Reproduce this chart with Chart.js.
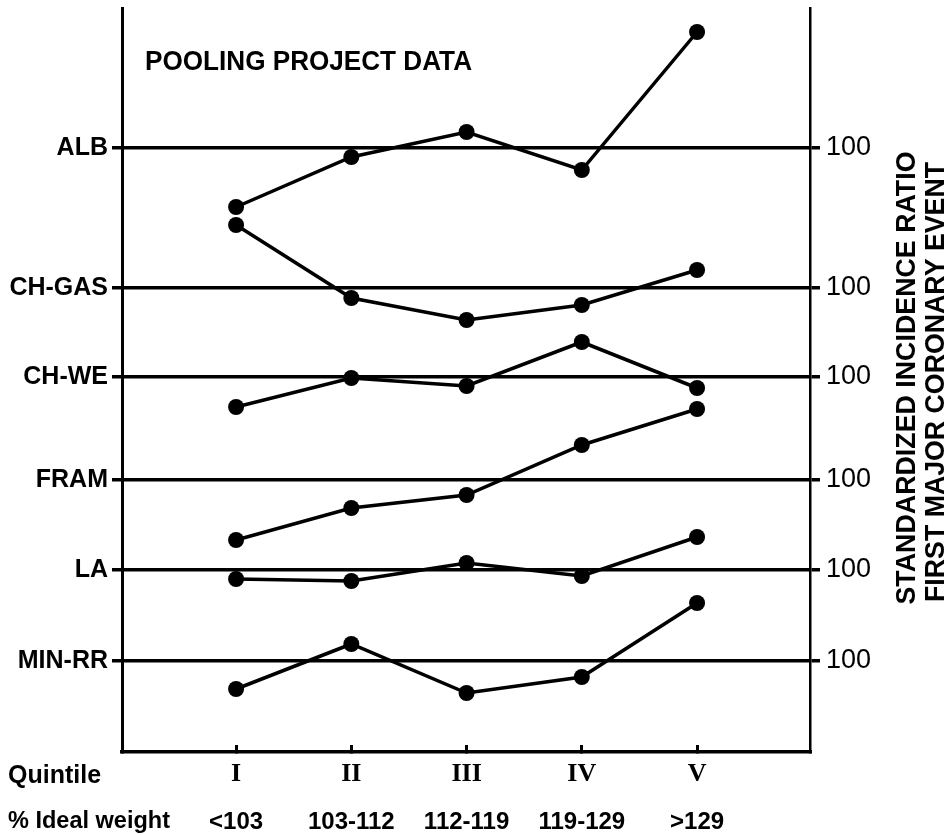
<!DOCTYPE html>
<html lang="en">
<head>
<meta charset="UTF-8">
<title>Pooling Project Data</title>
<script src="https://cdn.jsdelivr.net/npm/chart.js"></script>
<style>
    * { margin: 0; padding: 0; }
    body { background: #fff; }
</style>
</head>
<body>
<canvas id="myChart" width="949" height="835"></canvas>
<script>
    const studies = ['ALB', 'CH-GAS', 'CH-WE', 'FRAM', 'LA', 'MIN-RR'];
    // where each study's 100-line sits on the stacked axis
    const baselines = [302, 232, 187.5, 136, 91, 45.5];
    const quintiles = ['I', 'II', 'III', 'IV', 'V'];
    const idealWeight = ['<103', '103-112', '112-119', '119-129', '>129'];

    // standardized incidence ratio, quintile I..V
    const alb   = [70.5, 95.5, 108, 89, 158];
    const chGas = [131.5, 95, 84, 91.5, 109];
    const chWe  = [85, 99.5, 95.5, 117.5, 94.5];
    const fram  = [70, 86, 92.5, 117.5, 135.5];
    const la    = [95.5, 94.5, 103.5, 97, 116.5];
    const minRR = [86, 108.5, 84, 92, 129];
    const series = [alb, chGas, chWe, fram, la, minRR];

    const sans = '"Liberation Sans", Arial, sans-serif';

    const datasets = series.map((vals, k) => ({
        label: studies[k],
        data: vals.map((v, i) => ({ x: i + 1, y: baselines[k] + v - 100 })),
        borderColor: '#000',
        backgroundColor: '#000',
        borderWidth: 3.5,
        pointRadius: 8,
        pointBorderWidth: 0,
        tension: 0
    }));

    const quintileTicks = s => { s.ticks = quintiles.map((q, i) => ({ value: i + 1 })); };
    const baselineTicks = s => { s.ticks = baselines.map(v => ({ value: v })); };
    // labels never sit at the ends, so no extra room needed above/below
    const noPad = s => { s.paddingTop = 0; s.paddingBottom = 0; };

    const extraText = {
        id: 'extraText',
        afterDraw(chart) {
            const c = chart.ctx;
            c.save();
            c.fillStyle = '#000';
            c.textAlign = 'left';
            c.textBaseline = 'alphabetic';
            c.font = 'bold 27px ' + sans;
            c.fillText('POOLING PROJECT DATA', 145, 70, 327);
            c.font = 'bold 25px ' + sans;
            c.fillText('Quintile', 8, 783, 94);
            c.font = 'bold 24px ' + sans;
            c.fillText('% Ideal weight', 8, 828, 162);

            // right-hand axis title, reads bottom to top
            c.font = 'bold 27px ' + sans;
            c.textAlign = 'center';
            c.textBaseline = 'middle';
            c.translate(908, 378);
            c.rotate(-Math.PI / 2);
            c.fillText('STANDARDIZED INCIDENCE RATIO', 0, 0, 453);
            c.fillText('FIRST MAJOR CORONARY EVENT', -4, 29, 440);
            c.restore();
        }
    };

    new Chart(document.getElementById('myChart'), {
        type: 'line',
        data: { datasets: datasets },
        plugins: [extraText],
        options: {
            responsive: false,
            animation: false,
            layout: { padding: { top: 8, left: 0, right: 0, bottom: 0 } },
            plugins: {
                legend: { display: false },
                tooltip: { enabled: false }
            },
            scales: {
                x: {
                    type: 'linear',
                    position: 'bottom',
                    weight: 0,
                    min: 0.01,
                    max: 5.98,
                    afterBuildTicks: quintileTicks,
                    afterFit: s => { s.height = 40; },
                    grid: { drawOnChartArea: false, color: '#000', lineWidth: 3, tickLength: -7 },
                    border: { display: true, color: '#000', width: 3.5 },
                    ticks: {
                        callback: (v, i) => quintiles[i],
                        color: '#000',
                        padding: 14,
                        maxRotation: 0,
                        autoSkip: false,
                        font: { family: '"Liberation Serif", serif', size: 26, weight: 'bold' }
                    }
                },
                x2: {
                    type: 'linear',
                    position: 'bottom',
                    weight: 1,
                    min: 0.01,
                    max: 5.98,
                    afterBuildTicks: quintileTicks,
                    afterFit: s => { s.height = 43; },
                    grid: { display: false },
                    border: { display: false },
                    ticks: {
                        callback: (v, i) => idealWeight[i],
                        color: '#000',
                        padding: 8,
                        maxRotation: 0,
                        autoSkip: false,
                        font: { family: sans, size: 24, weight: 'bold' }
                    }
                },
                y: {
                    position: 'left',
                    min: 0,
                    max: 372,
                    afterBuildTicks: baselineTicks,
                    afterFit: s => { s.width = 122; noPad(s); },
                    grid: { color: '#000', lineWidth: 3.5, tickLength: 10 },
                    border: { display: true, color: '#000', width: 3 },
                    ticks: {
                        callback: (v, i) => studies[i],
                        color: '#000',
                        padding: 4,
                        font: { family: sans, size: 25, weight: 'bold' }
                    }
                },
                y2: {
                    position: 'right',
                    min: 0,
                    max: 372,
                    afterBuildTicks: baselineTicks,
                    afterFit: s => { s.width = 139; noPad(s); },
                    grid: { drawOnChartArea: false, color: '#000', lineWidth: 3.5, tickLength: 10 },
                    border: { display: true, color: '#000', width: 2.5 },
                    ticks: {
                        callback: () => '100',
                        color: '#000',
                        padding: 6,
                        font: { family: sans, size: 27 }
                    }
                }
            }
        }
    });
</script>
</body>
</html>
